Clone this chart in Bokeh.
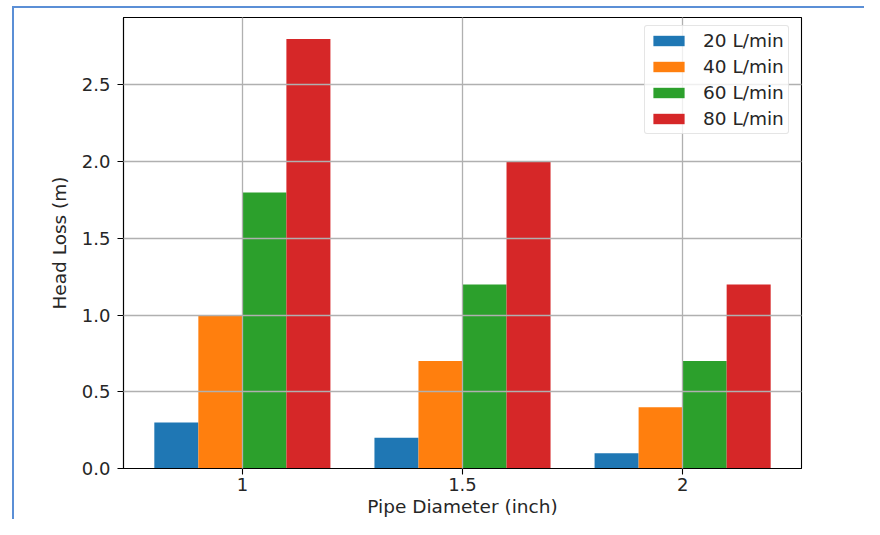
import numpy as np
from bokeh.plotting import figure
from bokeh.models import (ColumnDataSource, Range1d, FixedTicker, NumeralTickFormatter,
                          Legend, LegendItem, InlineStyleSheet)
from bokeh.embed import file_html
from bokeh.resources import INLINE

# ---- data ----
diameters = ["1", "1.5", "2"]
series_names = ["20 L/min", "40 L/min", "60 L/min", "80 L/min"]
flow_20 = [0.3, 0.2, 0.1]
flow_40 = [1.0, 0.7, 0.4]
flow_60 = [1.8, 1.2, 0.7]
flow_80 = [2.8, 2.0, 1.2]
y_ticks = [0.0, 0.5, 1.0, 1.5, 2.0, 2.5]

series_values = [flow_20, flow_40, flow_60, flow_80]
colors = ["#1f77b4", "#ff7f0e", "#2ca02c", "#d62728"]

FONT = "DejaVu Sans"
TXT = "#262626"

idx = np.arange(len(diameters))
bar_w = 0.2
n = len(series_values)
x_lo = -(n / 2) * bar_w
x_hi = (len(diameters) - 1) + (n / 2) * bar_w
pad = 0.05 * (x_hi - x_lo)
ymax = max(max(s) for s in series_values)

frame_css = InlineStyleSheet(css="""
:host {
  background:
    linear-gradient(#5b8fd6, #5b8fd6) 12px 6px / 2px 100% no-repeat,
    linear-gradient(#5b8fd6, #5b8fd6) 12px 6px / 100% 2px no-repeat,
    #ffffff;
}
""")

p = figure(width=864, height=519, output_backend="svg", toolbar_location=None,
           x_range=Range1d(x_lo - pad, x_hi + pad), y_range=Range1d(0, ymax * 1.05),
           min_border_left=123, min_border_right=63, min_border_top=17, min_border_bottom=51,
           stylesheets=[frame_css])
p.background_fill_color = "white"
p.border_fill_color = "white"
p.border_fill_alpha = 0
p.outline_line_color = "black"
p.outline_line_width = 1.1

renderers = []
for i, (vals, col) in enumerate(zip(series_values, colors)):
    off = (i - (n - 1) / 2) * bar_w
    src = ColumnDataSource(dict(x=idx + off, top=vals))
    r = p.vbar(x="x", top="top", bottom=0, width=bar_w, source=src,
               fill_color=col, line_color=None)
    renderers.append(r)

legend = Legend(items=[LegendItem(label=nm, renderers=[r]) for nm, r in zip(series_names, renderers)],
                location=(521, 334))
legend.margin = 0
legend.padding = 4
legend.spacing = 5
legend.glyph_width = 39
legend.glyph_height = 13
legend.label_height = 20
legend.label_standoff = 15
legend.label_text_font = FONT
legend.label_text_font_size = "18.5px"
legend.label_text_color = TXT
legend.border_line_color = "#cccccc"
legend.border_line_width = 1
legend.background_fill_alpha = 0.8
legend.border_radius = 3
p.add_layout(legend)

# axes
p.xaxis.ticker = FixedTicker(ticks=list(idx))
p.xaxis.major_label_overrides = {int(i): d for i, d in zip(idx, diameters)}
p.yaxis.ticker = FixedTicker(ticks=y_ticks)
p.yaxis.formatter = NumeralTickFormatter(format="0.0")
p.xaxis.axis_label = "Pipe Diameter (inch)"
p.yaxis.axis_label = "Head Loss (m)"
for ax in (p.xaxis, p.yaxis):
    ax.axis_line_color = "black"
    ax.axis_line_width = 1.1
    ax.major_tick_line_color = "black"
    ax.major_tick_line_width = 1.1
    ax.major_tick_out = 6
    ax.major_tick_in = 0
    ax.minor_tick_line_color = None
    ax.major_label_text_font = FONT
    ax.major_label_text_font_size = "18px"
    ax.major_label_text_color = TXT
    ax.axis_label_text_font = FONT
    ax.axis_label_text_font_size = "18.5px"
    ax.axis_label_text_font_style = "normal"
    ax.axis_label_text_color = TXT
p.xaxis.major_label_standoff = 3
p.xaxis.axis_label_standoff = 2
p.yaxis.major_label_standoff = 7
p.yaxis.axis_label_standoff = 9

p.grid.grid_line_color = "#b0b0b0"
p.grid.grid_line_width = 1.3
p.grid.level = "guide"
p.xgrid.ticker = FixedTicker(ticks=list(idx))
p.ygrid.ticker = FixedTicker(ticks=y_ticks)

open("out.html", "w").write(file_html(p, INLINE))
